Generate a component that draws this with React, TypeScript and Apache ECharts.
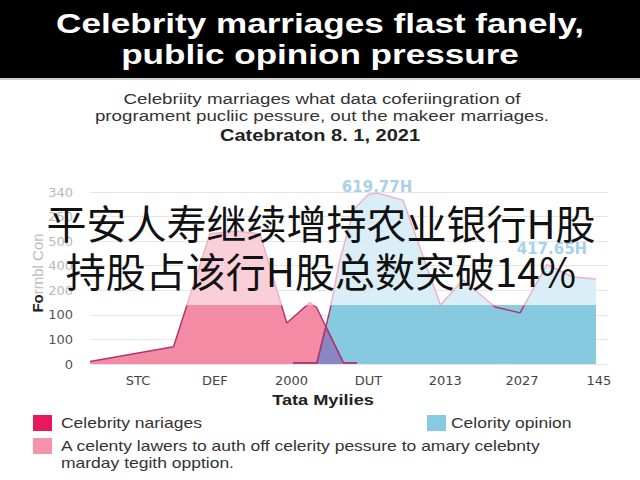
import React, { useEffect, useRef } from 'react';
import * as echarts from 'echarts';

// ---------- texts ----------
const titleLines = ['Celebrity marriages flast fanely,', 'public opinion pressure'];
const subtitleLines = [
  'Celebriity marriages what data coferiingration of',
  'programent pucliic pessure, out the makeer marriages.',
];
const dateLine = 'Catebraton 8. 1, 2021';
const overlayLines = ['平安人寿继续增持农业银行H股', '持股占该行H股总数突破14%'];
const xAxisName = 'Tata Myilies';
const legendNames = [
  'Celebrity nariages',
  'Celority opinion',
  'A celenty lawers to auth off celerity pessure to amary celebnty',
  'marday tegith opption.',
];

// ---------- axes ----------
const xTickLabels = ['STC', 'DEF', '2000', 'DUT', '2013', '2027', '145'];
const xTickAt = [5, 13, 21, 29, 37, 45, 53];
const yTickLabels = ['0', '100', '100', '200', '400', '500', '250', '340'];

// ---------- series (x in axis units, y in gridline units) ----------
const pinkX = [0, 8.7, 12.5, 15.2, 17.7, 20.5, 22.9, 23.6, 26.4, 27.8];
const pinkY = [0.1, 0.7, 5.3, 5.4, 5.3, 1.67, 2.5, 2.3, 0.05, 0.05];

const pinkLowX = [0, 8.7, 10.1, 19.9, 20.5, 22.6, 23.25, 23.6, 26.4, 27.8];
const pinkLowY = [0.1, 0.7, 2.4, 2.4, 1.67, 2.4, 2.4, 2.3, 0.05, 0.05];

const blueX = [21.15, 23.65, 25.0, 26.0, 27.5, 29.0, 29.9, 32.6, 36.5, 38.85, 42.2, 44.8, 47.6, 50.3, 52.7];
const blueY = [0.05, 0.05, 2.2, 4.2, 6.3, 6.9, 6.96, 6.67, 2.4, 3.42, 2.32, 2.08, 4.05, 3.54, 3.46];
const blueLabels = ['', '', '', '', '', '', '619.77H', '', '', '', '', '', '417.65H', '', ''];

const blueLowX = [21.15, 23.65, 25.1, 52.7];
const blueLowY = [0.05, 0.05, 2.4, 2.4];

const overlapX = [21.15, 23.65, 24.57, 26.4, 27.8];
const overlapY = [0.05, 0.05, 1.52, 0.05, 0.05];

const pairs = (xs: number[], ys: number[]) => xs.map((x, i) => [x, ys[i]]);

export default function App() {
  const ref = useRef<HTMLDivElement>(null);

  useEffect(() => {
    if (!ref.current) return;
    const chart = echarts.init(ref.current, null, { renderer: 'svg' });

    const sans = 'Liberation Sans, Arial, sans-serif';
    const areaSeries = (xs: number[], ys: number[], color: string, z: number) => ({
      type: 'line',
      data: pairs(xs, ys),
      symbol: 'none',
      silent: true,
      lineStyle: { width: 0 },
      areaStyle: { color, opacity: 1 },
      z,
    });

    // line colour: darker below the band level, lighter above (global gradient, split at the band)
    const split = 305 / 480;
    const lineGradient = {
      type: 'linear',
      x: 0,
      y: 0,
      x2: 0,
      y2: 480,
      global: true,
      colorStops: [
        { offset: 0, color: '#eeb2c8' },
        { offset: split, color: '#eeb2c8' },
        { offset: split + 0.002, color: '#b5346c' },
        { offset: 1, color: '#b5346c' },
      ],
    };

    const labelStyle = {
      show: true,
      position: 'top',
      fontFamily: 'DejaVu Sans',
      fontWeight: 'bold',
      fontSize: 15,
      color: '#a8d2e6',
    };

    const option: any = {
      animation: false,
      backgroundColor: '#ffffff',
      grid: { left: 90, right: 31.6, top: 192, bottom: 116, containLabel: false },
      xAxis: {
        type: 'value',
        min: 0,
        max: 54,
        interval: 1,
        axisLine: { show: false },
        axisTick: { show: false },
        splitLine: { show: false },
        axisLabel: {
          margin: 10,
          fontFamily: 'DejaVu Sans',
          fontSize: 13,
          color: '#444',
          formatter: (v: number) => {
            const i = xTickAt.indexOf(Math.round(v));
            return i >= 0 && Math.abs(v - xTickAt[i]) < 1e-6 ? xTickLabels[i] : '';
          },
        },
      },
      yAxis: {
        type: 'value',
        min: 0,
        max: 7,
        interval: 1,
        axisLine: { show: false },
        axisTick: { show: false },
        splitLine: { lineStyle: { color: '#e6e6e6', width: 1 } },
        axisLabel: {
          margin: 17,
          fontFamily: 'DejaVu Sans',
          fontSize: 13,
          color: (v: any) => (Number(v) <= 2 ? '#555555' : '#b8b8b8'),
          formatter: (v: number) => yTickLabels[Math.round(v)] ?? '',
        },
      },
      series: [
        areaSeries(pinkX, pinkY, 'rgba(248,203,215,0.92)', 1),
        areaSeries(pinkLowX, pinkLowY, 'rgba(242,134,160,0.92)', 2),
        areaSeries(blueX, blueY, 'rgba(216,237,246,0.94)', 3),
        areaSeries(blueLowX, blueLowY, 'rgba(128,199,220,0.92)', 4),
        {
          type: 'line',
          data: pairs(overlapX, overlapY),
          symbol: 'none',
          silent: true,
          lineStyle: { width: 1.5, color: '#7a4e96' },
          areaStyle: { color: '#8b86c3', opacity: 1 },
          z: 5,
        },
        {
          type: 'line',
          data: pairs(pinkX, pinkY),
          symbol: 'none',
          silent: true,
          lineStyle: { width: 1.5, color: lineGradient },
          z: 6,
        },
        {
          type: 'line',
          data: blueX.map((x, i) => ({
            value: [x, blueY[i]],
            label: blueLabels[i]
              ? {
                  ...labelStyle,
                  formatter: blueLabels[i],
                  distance: blueY[i] > 6 ? -2 : 8,
                  offset: blueY[i] > 6 ? [0, 0] : [5, 0],
                }
              : { show: false },
          })),
          symbol: 'circle',
          symbolSize: 0.5,
          showSymbol: true,
          silent: true,
          itemStyle: { color: 'rgba(0,0,0,0)' },
          lineStyle: { width: 1.5, color: lineGradient },
          z: 7,
        },
      ],
      graphic: [
        { type: 'rect', shape: { x: 0, y: 0, width: 640, height: 78 }, style: { fill: '#000' } },
        { type: 'rect', shape: { x: 0, y: 78, width: 640, height: 2 }, style: { fill: '#cfcfcf' } },
        ...titleLines.map((t, i) => ({
          type: 'text',
          x: 320,
          y: 24 + i * 31,
          scaleX: 1.3,
          style: {
            text: t,
            fill: '#ffffff',
            fontFamily: sans,
            fontWeight: 'bold',
            fontSize: 27,
            align: 'center',
            verticalAlign: 'middle',
          },
        })),
        ...subtitleLines.map((t, i) => ({
          type: 'text',
          x: 322,
          y: 99 + i * 17,
          scaleX: 1.25,
          style: {
            text: t,
            fill: '#333333',
            fontFamily: sans,
            fontSize: 15,
            align: 'center',
            verticalAlign: 'middle',
          },
        })),
        {
          type: 'text',
          x: 320,
          y: 136,
          scaleX: 1.25,
          style: {
            text: dateLine,
            fill: '#222222',
            fontFamily: sans,
            fontWeight: 'bold',
            fontSize: 16,
            align: 'center',
            verticalAlign: 'middle',
          },
        },
        {
          type: 'text',
          x: 37,
          y: 273,
          rotation: Math.PI / 2,
          style: {
            text: '{a|Fo}{b|rmbl Con}',
            rich: {
              a: { fontFamily: sans, fontWeight: 'bold', fontSize: 15, fill: '#222222' },
              b: { fontFamily: sans, fontSize: 15, fill: '#bdbdbd' },
            },
            align: 'center',
            verticalAlign: 'middle',
          },
        },
        {
          type: 'text',
          x: 323,
          y: 400,
          scaleX: 1.3,
          style: {
            text: xAxisName,
            fill: '#222222',
            fontFamily: sans,
            fontWeight: 'bold',
            fontSize: 14,
            align: 'center',
            verticalAlign: 'middle',
          },
        },
        // legend
        { type: 'rect', shape: { x: 33, y: 415, width: 19, height: 16 }, style: { fill: '#e8185c' } },
        { type: 'rect', shape: { x: 427, y: 415, width: 19, height: 16 }, style: { fill: '#86cbe2' } },
        { type: 'rect', shape: { x: 33, y: 438, width: 19, height: 16 }, style: { fill: '#f593aa' } },
        ...[
          { t: legendNames[0], x: 61, y: 423 },
          { t: legendNames[1], x: 451, y: 423 },
          { t: legendNames[2], x: 61, y: 446 },
          { t: legendNames[3], x: 61, y: 463 },
        ].map((o) => ({
          type: 'text',
          x: o.x,
          y: o.y,
          scaleX: 1.25,
          style: {
            text: o.t,
            fill: '#333333',
            fontFamily: sans,
            fontSize: 14,
            align: 'left',
            verticalAlign: 'middle',
          },
        })),
        // overlay caption
        ...overlayLines.map((t, i) => ({
          type: 'text',
          x: 321,
          y: 222 + i * 48,
          z: 100,
          style: {
            text: t,
            fill: '#111111',
            fontFamily: 'Noto Sans CJK SC',
            fontSize: 40,
            align: 'center',
            verticalAlign: 'middle',
          },
        })),
      ],
    };

    chart.setOption(option);
    return () => chart.dispose();
  }, []);

  return (
    <div
      ref={ref}
      style={{ position: 'fixed', left: 0, top: 0, width: 640, height: 480 }}
    />
  );
}
